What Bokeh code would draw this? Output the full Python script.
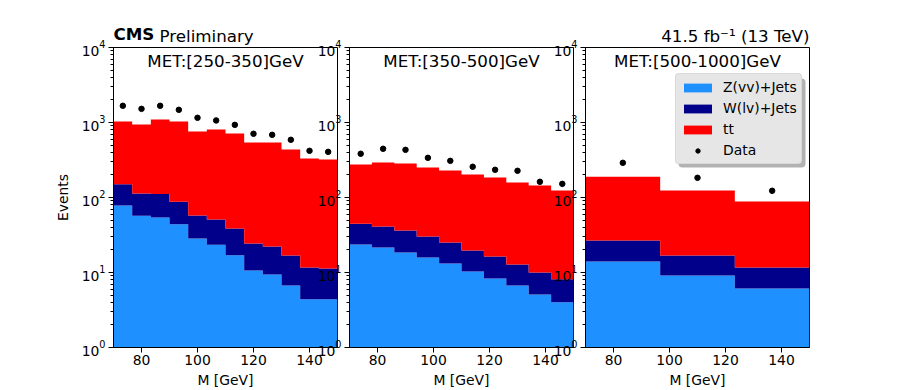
import numpy as np
from bokeh.plotting import figure
from bokeh.models import (ColumnDataSource, FixedTicker, Label, Legend, LegendItem,
                          Range1d, Title, BoxAnnotation)
from bokeh.layouts import row
from bokeh.embed import file_html
from bokeh.resources import INLINE

# ---------------- data ----------------
x_ticks = [80, 100, 120, 140]

met_labels = ["MET:[250-350]GeV", "MET:[350-500]GeV", "MET:[500-1000]GeV"]

edges_1 = [70.0, 76.67, 83.33, 90.0, 96.67, 103.33, 110.0, 116.67, 123.33, 130.0, 136.67, 143.33, 150.0]
zjets_1 = [78, 57, 54, 44, 28.5, 23.5, 17, 10.6, 9.4, 6.7, 4.4, 4.4]
wjets_1 = [72, 56, 57, 44, 29, 27.5, 21.5, 13.7, 12.8, 10.2, 7.3, 6.9]
ttbar_1 = [880, 827, 984, 942, 702, 754, 676, 516, 518, 420, 319, 310]
data_1 = [1670, 1520, 1670, 1475, 1155, 1065, 930, 707, 685, 588, 419, 406]

edges_2 = [70, 78, 86, 94, 102, 110, 118, 126, 134, 142, 150]
zjets_2 = [23.6, 21.5, 18.5, 15.8, 13.2, 10.3, 8.3, 6.7, 5.1, 4.0]
wjets_2 = [21.0, 19.5, 17.8, 14.4, 11.9, 9.3, 8.0, 6.1, 4.9, 4.1]
ttbar_2 = [230, 252, 248, 221, 204, 183, 169, 146, 135, 116]
data_2 = [383, 446, 432, 338, 308, 257, 234, 227, 162, 152]

edges_3 = [70.0, 96.67, 123.33, 150.0]
zjets_3 = [14.0, 9.1, 6.1]
wjets_3 = [12.7, 7.8, 5.6]
ttbar_3 = [163, 107, 77]
data_3 = [290, 183, 123]

series_names = ["Z(vv)+Jets", "W(lv)+Jets", "tt", "Data"]

# ---------------- styling ----------------
FONT = "DejaVu Sans"
FW, FH = 224, 300
TOP = 47
C_Z, C_W, C_TT = "#1E90FF", "#00008B", "#FF0000"
HAS_STEP = hasattr(figure(), "varea_step")


def make_panel(edges, z, w, tt, data, met, left_border, right_border, first):
    edges = np.asarray(edges, dtype=float)
    z = np.asarray(z, dtype=float)
    w = np.asarray(w, dtype=float)
    tt = np.asarray(tt, dtype=float)
    data = np.asarray(data, dtype=float)

    p = figure(frame_width=FW, frame_height=FH, x_range=Range1d(70, 150),
               y_range=Range1d(1, 1e4), y_axis_type="log",
               output_backend="svg", toolbar_location=None,
               min_border_left=left_border, min_border_right=right_border,
               min_border_top=TOP, min_border_bottom=0,
               border_fill_color=None, background_fill_color="white",
               outline_line_color="black", outline_line_width=1,
               margin=(0, 0, 0, 0) if first else (0, 0, 0, -33))
    p.grid.visible = False

    base = np.full_like(z, 0.1)
    layers = [(base, z, C_Z), (z, z + w, C_W), (z + w, z + w + tt, C_TT)]
    rends = []
    for lo, hi, col in layers:
        if HAS_STEP:
            src = ColumnDataSource(dict(x=edges, y1=np.append(lo, lo[-1]),
                                        y2=np.append(hi, hi[-1])))
            r = p.varea_step(x="x", y1="y1", y2="y2", step_mode="after",
                             source=src, fill_color=col)
        else:
            src = ColumnDataSource(dict(l=edges[:-1], r=edges[1:], b=lo, t=hi))
            r = p.quad(left="l", right="r", bottom="b", top="t", source=src,
                       fill_color=col, line_color=col, line_width=0.6)
        rends.append(r)

    centers = 0.5 * (edges[:-1] + edges[1:])
    err = np.sqrt(data)
    dsrc = ColumnDataSource(dict(x=centers, y=data, lo=data - err, hi=data + err))
    p.segment(x0="x", x1="x", y0="lo", y1="hi", source=dsrc, line_color="black", line_width=1.2)
    rd = p.scatter(x="x", y="y", source=dsrc, size=5.5, fill_color="black", line_color="black")

    p.xaxis.ticker = FixedTicker(ticks=x_ticks)
    for ax in (p.xaxis[0], p.yaxis[0]):
        ax.axis_line_color = "black"
        ax.major_tick_line_color = "black"
        ax.minor_tick_line_color = "black" if ax is p.yaxis[0] else None
        ax.major_tick_out = 5
        ax.major_tick_in = 0
        ax.minor_tick_out = 3
        ax.minor_tick_in = 0
        ax.major_label_text_font = FONT
        ax.major_label_text_font_size = "13.9px"
        ax.major_label_text_color = "black"
        ax.axis_label_text_font = FONT
        ax.axis_label_text_font_size = "13.9px"
        ax.axis_label_text_font_style = "normal"
        ax.axis_label_text_color = "black"
    p.xaxis.major_label_standoff = 2
    p.xaxis.axis_label = "M [GeV]"
    p.xaxis.axis_label_standoff = 4
    p.yaxis.major_label_standoff = 3
    if first:
        p.yaxis.axis_label = "Events"
        p.yaxis.axis_label_standoff = 8

    p.title.text_font = FONT
    p.title.text_font_size = "16.7px"
    p.title.text_color = "black"
    p.title.text_font_style = "normal"
    p.title.standoff = 4

    p.add_layout(Label(x=FW / 2, y=FH - 13, x_units="screen", y_units="screen",
                       text=met, text_align="center", text_baseline="middle",
                       text_font=FONT, text_font_size="16.7px", text_color="black"))
    return p, rends, rd


p1, _, _ = make_panel(edges_1, zjets_1, wjets_1, ttbar_1, data_1, met_labels[0], 113, 5, True)
p2, _, _ = make_panel(edges_2, zjets_2, wjets_2, ttbar_2, data_2, met_labels[1], 40, 5, False)
p3, rends3, rd3 = make_panel(edges_3, zjets_3, wjets_3, ttbar_3, data_3, met_labels[2], 40, 10, False)

# header texts: "Preliminary" sits next to the frame, the bold "CMS" title is pulled
# down onto the same line
p1.title.text = "CMS"
p1.title.align = "left"
p1.title.text_font_style = "bold"
p1.title.standoff = -44
p1.add_layout(Title(text="Preliminary", align="left", offset=46, standoff=4,
                    text_font=FONT, text_font_size="16.7px", text_color="black",
                    text_font_style="normal"), "above")
p3.title.text = "41.5 fb\u207b\u00b9 (13 TeV)"
p3.title.align = "right"

# legend shadow + legend
LEG_X, LEG_TOP, LEG_W, LEG_H = 90, 28, 127, 89
shadow = BoxAnnotation(left=LEG_X + 3, right=LEG_X + 3 + LEG_W,
                       top=FH - LEG_TOP - 3, bottom=FH - LEG_TOP - LEG_H - 3,
                       left_units="screen", right_units="screen",
                       top_units="screen", bottom_units="screen",
                       fill_color="black", fill_alpha=0.3, line_color=None)
p3.add_layout(shadow)

legend = Legend(items=[LegendItem(label=series_names[0], renderers=[rends3[0]]),
                       LegendItem(label=series_names[1], renderers=[rends3[1]]),
                       LegendItem(label=series_names[2], renderers=[rends3[2]]),
                       LegendItem(label=series_names[3], renderers=[rd3])],
                location=(LEG_X, FH - LEG_TOP - LEG_H), padding=4, spacing=3,
                label_height=18, glyph_height=11, glyph_width=35, label_standoff=8,
                label_text_font=FONT, label_text_font_size="13.9px",
                label_text_color="black", background_fill_color="#e6e6e6",
                background_fill_alpha=1.0, border_line_color="#cccccc",
                border_line_width=1)
if "border_radius" in Legend.properties():
    legend.border_radius = 4
if "border_radius" in BoxAnnotation.properties():
    shadow.border_radius = 4
p3.add_layout(legend)

layout = row(p1, p2, p3)
open("out.html", "w").write(file_html(layout, INLINE))
